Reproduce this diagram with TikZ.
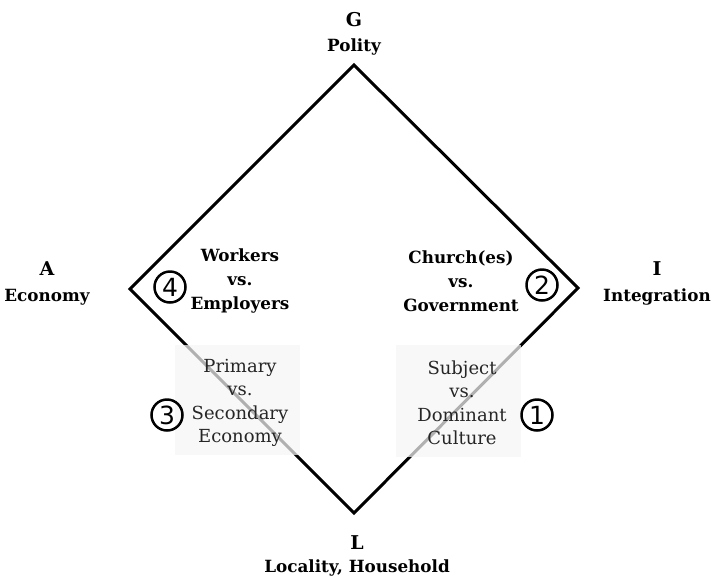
\documentclass[tikz,border=0pt]{standalone}
\usepackage{fontspec}
\setmainfont{DejaVu Serif}
\newfontfamily\numfont{DejaVu Sans}
\begin{document}
\begin{tikzpicture}[x=1pt,y=-1pt,
  pole/.style={font=\fontsize{19}{20}\selectfont\bfseries},
  poletext/.style={font=\fontsize{16.8}{20}\selectfont\bfseries},
  conflict/.style={align=center,font=\fontsize{16.8}{24}\selectfont\bfseries},
  softtext/.style={align=center,text=black!85,font=\fontsize{18}{23.5}\selectfont},
  numcirc/.style={circle,draw,line width=2.5pt,minimum size=31pt,inner sep=0pt,font=\fontsize{25}{25}\selectfont\numfont},
  side/.style={line width=3pt,line join=miter},
  veil/.style={fill=black!4,opacity=0.72}]
\useasboundingbox (0,0) rectangle (711,579);
\coordinate (G) at (354,65);
\coordinate (I) at (578,288);
\coordinate (L) at (354,513);
\coordinate (A) at (130,289);
\draw[side] (G) -- (I) -- (L) -- (A) -- cycle;
\fill[veil] (175,345) rectangle (300,455);
\fill[veil] (396,345) rectangle (521,457);
% pole labels
\node[pole] (gl) at (354,20) {G};
\node[poletext] (gt) at (354,47) {Polity};
\node[pole] (al) at (47,269) {A};
\node[poletext] (at) at (47,297) {Economy};
\node[pole] (il) at (657,269) {I};
\node[poletext] (it) at (657,297) {Integration};
\node[pole] (ll) at (357,543) {L};
\node[poletext] (lt) at (357,568) {Locality, Household};
% conflicts
\node[conflict] (wk) at (240,281) {Workers\\vs.\\Employers};
\node[conflict] (ch) at (461,281) {Church(es)\\vs.\\Government};
\node[softtext] (pr) at (240,403) {Primary\\vs.\\Secondary\\Economy};
\node[softtext] (sb) at (462,403) {Subject\\vs.\\Dominant\\Culture};
\node[numcirc] (n4) at (170,287) {4};
\node[numcirc] (n2) at (542,285) {2};
\node[numcirc] (n3) at (167,415) {3};
\node[numcirc] (n1) at (537,415) {1};
\end{tikzpicture}
\end{document}
